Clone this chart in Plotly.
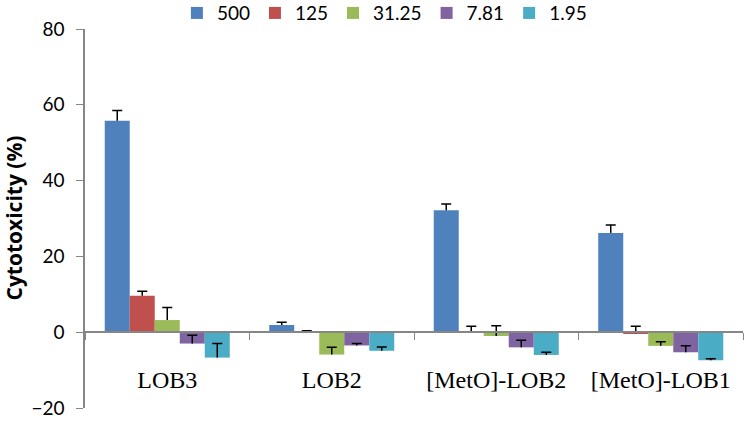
import plotly.graph_objects as go

categories = ["LOB3", "LOB2", "[MetO]-LOB2", "[MetO]-LOB1"]
series_names = ["500", "125", "31.25", "7.81", "1.95"]
colors = ["#4F81BD", "#C0504D", "#9BBB59", "#8064A2", "#4BACC6"]

vals_500 = [55.8, 1.9, 32.2, 26.2]
vals_125 = [9.6, 0.1, 0.1, -0.3]
vals_31 = [3.2, -5.9, -1.0, -3.6]
vals_7 = [-3.0, -3.5, -4.0, -5.3]
vals_1 = [-6.7, -4.9, -6.0, -7.4]

err_500 = [2.7, 0.7, 1.6, 2.1]
err_125 = [1.2, 0.3, 1.5, 1.9]
err_31 = [3.3, 1.9, 2.7, 1.1]
err_7 = [2.2, 0.5, 1.9, 1.7]
err_1 = [3.7, 1.0, 0.7, 0.4]

y_ticks = [-20, 0, 20, 40, 60, 80]

values = [vals_500, vals_125, vals_31, vals_7, vals_1]
errors = [err_500, err_125, err_31, err_7, err_1]

fig = go.Figure()
for i, (name, col, v, e) in enumerate(zip(series_names, colors, values, errors)):
    grp = str(i)
    # main bar with the vertical stem of the (plus-only) error bar
    fig.add_trace(go.Bar(
        x=categories, y=v, name=name, offsetgroup=grp,
        marker=dict(color=col, line=dict(width=0)),
        error_y=dict(type="data", array=e, arrayminus=[0] * len(e), symmetric=False,
                     color="black", thickness=1.5, width=0),
    ))
    # invisible helper bar ending at value + error, used to draw the cap only
    tops = [a + b for a, b in zip(v, e)]
    fig.add_trace(go.Bar(
        x=categories, y=tops, offsetgroup=grp, showlegend=False, hoverinfo="skip",
        marker=dict(color="rgba(0,0,0,0)", line=dict(width=0)),
        error_y=dict(type="data", array=[0] * len(e), symmetric=True,
                     color="black", thickness=1.5, width=5),
    ))

axis_gray = "#868686"
fig.update_layout(
    width=744, height=422,
    margin=dict(l=85, r=1, t=29, b=14, autoexpand=False),
    plot_bgcolor="white", paper_bgcolor="white",
    barmode="group", bargap=0.24, bargroupgap=0,
    showlegend=True,
    legend=dict(orientation="h", x=0.455, xanchor="center", y=1.042, yanchor="middle",
                font=dict(family="Lato", size=19, color="black"),
                itemwidth=30, traceorder="normal"),
    xaxis=dict(
        range=[-0.5, 3.5], anchor="free", position=0.2, automargin=False,
        showline=True, linecolor=axis_gray, linewidth=1.5,
        ticks="outside", tickson="boundaries", ticklen=7, tickcolor=axis_gray, tickwidth=1,
        showgrid=False, zeroline=False,
        tickfont=dict(family="Liberation Serif", size=24, color="black"),
        ticklabelstandoff=26,
    ),
    yaxis=dict(
        range=[-20, 80], tickvals=y_ticks, automargin=False,
        showline=True, linecolor=axis_gray, linewidth=1.5,
        ticks="outside", ticklen=7, tickcolor=axis_gray, tickwidth=1,
        showgrid=False, zeroline=False,
        tickfont=dict(family="Lato", size=19, color="black"),
        ticklabelstandoff=8,
    ),
    annotations=[dict(
        text="<b>Cytotoxicity (%)</b>", textangle=-90,
        xref="paper", yref="paper", x=(13 - 85) / 658, y=0.5,
        xanchor="center", yanchor="middle", showarrow=False,
        font=dict(family="Open Sans", size=21, color="black"),
    )],
)

fig.write_html("out.html", post_script="document.body.style.margin='0px';",
               config={"displayModeBar": False})
